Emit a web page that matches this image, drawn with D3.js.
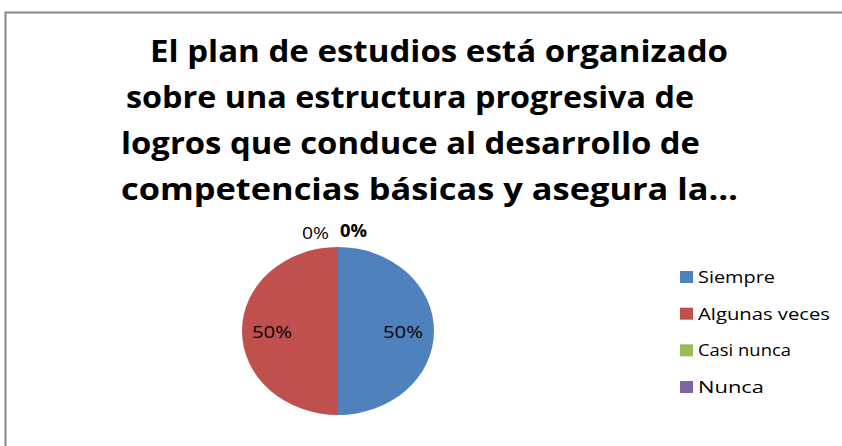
<!DOCTYPE html>
<html><head><meta charset="utf-8">
<script src="https://cdn.jsdelivr.net/npm/d3@7"></script>
<style>body{margin:0;background:#fff}svg{display:block}</style>
</head><body>
<svg id="c" width="842" height="446"></svg>
<script>
const categories = ["Siempre", "Algunas veces", "Casi nunca", "Nunca"];
const values = [50, 50, 0, 0];
const colors = ["#4F81BD", "#C0504D", "#9BBB59", "#8064A2"];
const titleLines = ["El plan de estudios está organizado", "sobre una estructura progresiva de", "logros que conduce al desarrollo de", "competencias básicas y asegura la…"];

const svg = d3.select("#c");
svg.append("rect").attr("x", 5.5).attr("y", 12.5).attr("width", 900).attr("height", 500)
  .attr("fill", "#fff").attr("stroke", "#868686").attr("stroke-width", 2);

const font = "'Open Sans', 'Liberation Sans', sans-serif";
const tx = [150, 126, 121, 121], tw = [578, 568, 579, 617], ty = [62, 108, 154, 200];
svg.selectAll("text.title").data(titleLines).join("text").attr("class", "title")
  .attr("x", (d, i) => tx[i]).attr("y", (d, i) => ty[i])
  .attr("textLength", (d, i) => tw[i]).attr("lengthAdjust", "spacingAndGlyphs")
  .attr("font-family", font).attr("font-weight", "bold").attr("font-size", 31)
  .attr("fill", "#000").text(d => d);

const cx = 338, cy = 331, rx = 96, ry = 84;
const total = d3.sum(values);
const pie = d3.pie().sort(null).value(d => d)(values);
const arc = d3.arc().innerRadius(0).outerRadius(rx);
const g = svg.append("g").attr("transform", `translate(${cx},${cy}) scale(1,${ry / rx})`);
g.selectAll("path").data(pie).join("path").attr("d", arc).attr("fill", (d, i) => colors[i]);

const fmt = v => Math.round(v / total * 100) + "%";
const labelPos = [[383, 338], [252, 338], [302, 239], [340, 237]];
svg.selectAll("text.lab").data(pie).join("text").attr("class", "lab")
  .attr("x", (d, i) => labelPos[i][0]).attr("y", (d, i) => labelPos[i][1])
  .attr("textLength", (d, i) => i < 2 ? 40 : 27).attr("lengthAdjust", "spacingAndGlyphs")
  .attr("font-family", font).attr("font-size", 17).attr("fill", "#000")
  .attr("font-weight", (d, i) => i === 3 ? "bold" : "normal")
  .text(d => fmt(d.data));

const lg = svg.append("g");
const ly = d3.scalePoint().domain(categories).range([277, 387]);
const lw = [77, 132, 93, 66];
lg.selectAll("rect").data(categories).join("rect")
  .attr("x", 680).attr("y", d => ly(d) - 6).attr("width", 13).attr("height", 12)
  .attr("fill", (d, i) => colors[i]);
lg.selectAll("text").data(categories).join("text")
  .attr("x", 698).attr("y", d => ly(d) + 6)
  .attr("textLength", (d, i) => lw[i]).attr("lengthAdjust", "spacingAndGlyphs")
  .attr("font-family", font).attr("font-size", 17).attr("fill", "#000").text(d => d);
</script>
</body></html>
